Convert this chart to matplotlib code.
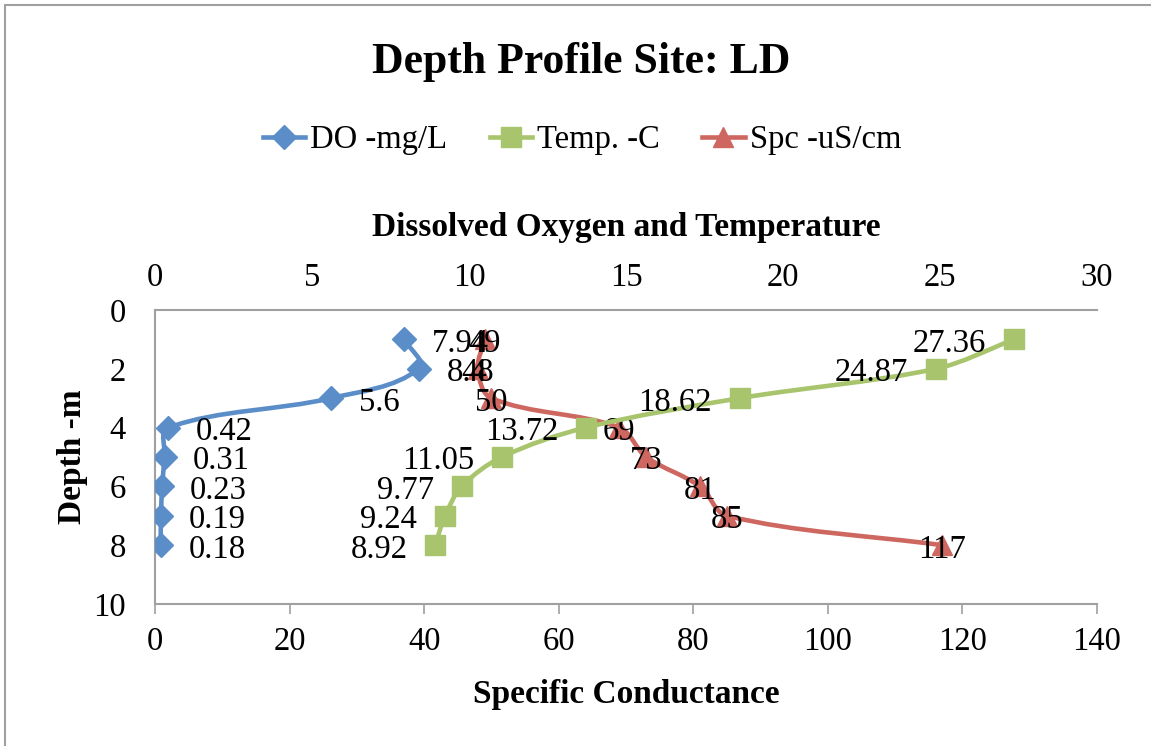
import matplotlib
matplotlib.use("Agg")
import matplotlib.pyplot as plt
from matplotlib.path import Path
from matplotlib.patches import PathPatch, Rectangle
from matplotlib.lines import Line2D
import numpy as np

depth = [1, 2, 3, 4, 5, 6, 7, 8]
do_vals = [7.94, 8.4, 5.6, 0.42, 0.31, 0.23, 0.19, 0.18]
temp_vals = [27.36, 24.87, 18.62, 13.72, 11.05, 9.77, 9.24, 8.92]
spc_vals = [49, 48, 50, 69, 73, 81, 85, 117]
do_labels = ["7.94", "8.4", "5.6", "0.42", "0.31", "0.23", "0.19", "0.18"]
temp_labels = ["27.36", "24.87", "18.62", "13.72", "11.05", "9.77", "9.24", "8.92"]
spc_labels = ["49", "48", "50", "69", "73", "81", "85", "117"]

title = "Depth Profile Site: LD"
top_title = "Dissolved Oxygen and Temperature"
bottom_title = "Specific Conductance"
left_title = "Depth -m"
legend_names = ["DO -mg/L", "Temp. -C", "Spc -uS/cm"]

c_do = "#5B8DC9"
c_temp = "#A8C46C"
c_spc = "#CE6760"
gray = "#A0A0A0"
FONT = "Liberation Serif"
plt.rcParams["font.family"] = FONT

W, H = 1151, 746
fig = plt.figure(figsize=(W / 100, H / 100), dpi=100)

# outer chart border
fig.patches.append(Rectangle((5 / W, -0.05), 1.2, (H - 5) / H + 0.05,
                             transform=fig.transFigure, fill=False,
                             edgecolor=gray, linewidth=1.5))

ax = fig.add_axes([155 / W, (H - 604) / H, 942 / W, 294 / H])
ax.set_xlim(0, 140)
ax.set_ylim(10, 0)
ax2 = ax.twiny()
ax2.set_xlim(0, 30)
ax2.set_ylim(10, 0)


def smooth_path(a, xs, ys):
    """Smoothed (Excel-like) Bezier path built in display space, returned in data space."""
    tr = a.transData
    pts = tr.transform(np.column_stack([xs, ys]).astype(float))
    n = len(pts)
    verts = [pts[0]]
    codes = [Path.MOVETO]

    def tangent(i):
        p_prev = pts[i - 1] if i > 0 else pts[i]
        p_next = pts[i + 1] if i + 1 < n else pts[i]
        t = p_next - p_prev
        nrm = np.hypot(*t)
        return t / nrm if nrm > 0 else t

    for i in range(n - 1):
        p1, p2 = pts[i], pts[i + 1]
        d = np.hypot(*(p2 - p1))
        c1 = p1 + tangent(i) * d / 3.0
        c2 = p2 - tangent(i + 1) * d / 3.0
        verts += [c1, c2, p2]
        codes += [Path.CURVE4] * 3
    verts = tr.inverted().transform(np.array(verts))
    return Path(verts, codes)


lw = 3.3
series = [(ax2, do_vals, c_do, "D", 12),
          (ax2, temp_vals, c_temp, "s", 15),
          (ax, spc_vals, c_spc, "^", 15)]
for a, xs, col, mk, ms in series:
    a.add_patch(PathPatch(smooth_path(a, xs, depth), facecolor="none",
                          edgecolor=col, linewidth=lw, zorder=2,
                          capstyle="round", joinstyle="round"))
    a.plot(xs, depth, linestyle="none", marker=mk, markersize=ms,
           color=col, markeredgecolor=col, zorder=3)

lab_fs = 23.5
for x, y, t in zip(do_vals, depth, do_labels):
    ax2.annotate(t, (x, y), xytext=(20, -3), textcoords="offset points",
                 ha="left", va="center", fontsize=lab_fs, zorder=5)
for x, y, t in zip(temp_vals, depth, temp_labels):
    ax2.annotate(t, (x, y), xytext=(-20, -3), textcoords="offset points",
                 ha="right", va="center", fontsize=lab_fs, zorder=5)
for x, y, t in zip(spc_vals, depth, spc_labels):
    ax.annotate(t, (x, y), xytext=(0, -3), textcoords="offset points",
                ha="center", va="center", fontsize=lab_fs, zorder=5)

# axes styling
for a in (ax, ax2):
    for s in a.spines.values():
        s.set_visible(False)
ax.spines["left"].set_visible(True)
ax.spines["bottom"].set_visible(True)
ax2.spines["top"].set_visible(True)
for s in (ax.spines["left"], ax.spines["bottom"], ax2.spines["top"]):
    s.set_color(gray)
    s.set_linewidth(1.5)

ax.set_xticks(np.arange(0, 141, 20))
ax.set_yticks(np.arange(0, 11, 2))
ax2.set_xticks(np.arange(0, 31, 5))
ax.tick_params(axis="x", direction="out", length=7, width=1.2, color=gray,
               labelsize=lab_fs, pad=9)
ax.tick_params(axis="y", length=0, labelsize=lab_fs, pad=21)
ax2.tick_params(axis="x", length=0, labelsize=lab_fs, pad=12)

ax.set_xlabel(bottom_title, fontsize=24, fontweight="bold", labelpad=16)
ax2.set_xlabel(top_title, fontsize=24, fontweight="bold", labelpad=19)
ax.set_ylabel(left_title, fontsize=24, fontweight="bold", labelpad=4)

fig.text(0.5 * (372 + 790) / W, 1 - 62 / H, title, ha="center", va="center",
         fontsize=31.5, fontweight="bold")

handles = [Line2D([], [], color=c_do, lw=lw, marker="D", markersize=12),
           Line2D([], [], color=c_temp, lw=lw, marker="s", markersize=15),
           Line2D([], [], color=c_spc, lw=lw, marker="^", markersize=15)]
fig.legend(handles, legend_names, loc="center", bbox_to_anchor=(582 / W, 1 - 140 / H),
           ncol=3, frameon=False, fontsize=lab_fs, handlelength=1.3,
           handletextpad=0.15, columnspacing=1.3)

fig.savefig("out.png", dpi=100)
